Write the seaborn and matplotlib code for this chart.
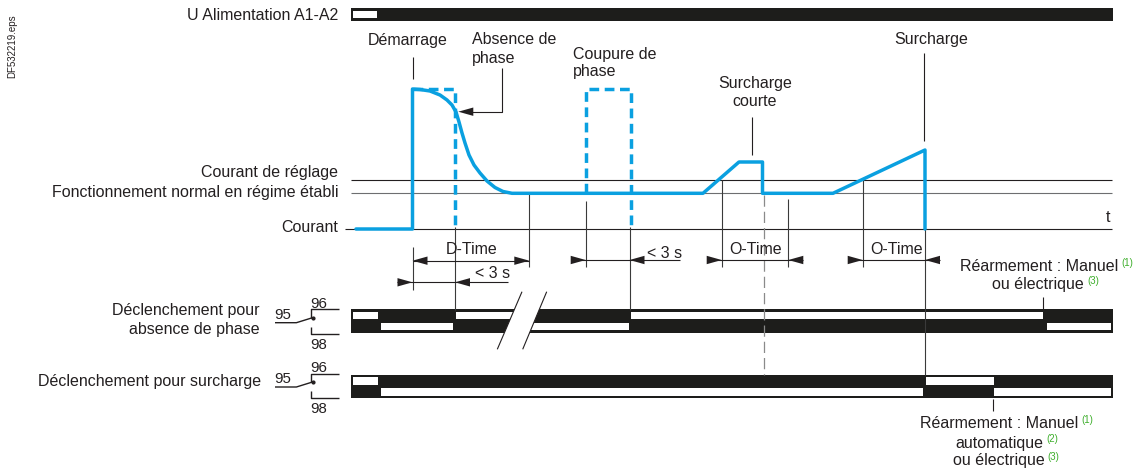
import matplotlib
matplotlib.use("Agg")
import matplotlib.pyplot as plt
import seaborn as sns
import pandas as pd
from matplotlib.patches import Rectangle, Polygon

# ---------------- data (diagram coordinates: x = time axis, y = drawing level) -------------
# current waveform (solid blue)
cur_t = [356, 412.5, 412.5, 420, 430, 440, 447, 452, 456, 459, 462, 465, 469, 474, 480,
         487, 495, 503, 512, 703, 739, 762.5, 762.5, 833, 925, 925]
cur_i = [229, 229, 89, 89.5, 91, 95, 100, 105, 112, 122, 133, 143, 155, 165, 173,
         181, 187.5, 191.5, 193.3, 193.3, 162, 162, 193.3, 193.3, 150, 229]
# dashed blue excursions
absence_t = [413, 455, 455]
absence_i = [89, 89, 226]
coupure_t = [586, 586, 630.5, 630.5]
coupure_i = [193.3, 89, 89, 226]
# reference levels
level_reglage = 180
level_normal = 193.3
level_zero = 229
# supply bar : "off" (white) intervals
supply_off = [(352.7, 377.3)]
# relay tracks : open (white) intervals, upper track (96) and lower track (98)
relay1_top_open = [(352.7, 377.7), (456.3, 530), (631, 1042.7)]
relay1_bot_open = [(380.7, 452.7), (525, 628.7), (1046.7, 1111)]
relay2_top_open = [(352.7, 377.7), (926, 994)]
relay2_bot_open = [(380.7, 922.7), (994, 1111)]

INK = "#231f20"
GREY = "#6d6e70"
BLUE = "#0aa0e0"
GREEN = "#3dae2b"

sns.set_theme(style="white")
plt.rcParams["font.family"] = ["Liberation Sans", "DejaVu Sans"]

fig = plt.figure(figsize=(11.33, 4.68), dpi=100)
ax = fig.add_axes([0, 0, 1, 1])

FS = 11.5


def txt(x, y, s, ha="center", fs=FS, color=INK, **kw):
    ax.text(x, y, s, ha=ha, va="center", fontsize=fs, color=color, **kw)


def seg(xs, ys, color=INK, lw=0.8, **kw):
    ax.plot(xs, ys, color=color, lw=lw, solid_capstyle="butt", **kw)


def head(tip, y, d):
    L, W = 15, 4.2
    ax.add_patch(Polygon([(tip, y), (tip - d * L, y - W), (tip - d * L, y + W)],
                         closed=True, facecolor=INK, edgecolor="none"))


# ---------------- supply bar ----------------
ax.add_patch(Rectangle((350.5, 7.5), 1113 - 350.5, 13.5, facecolor="#1d1d1b", edgecolor="none"))
for a, b in supply_off:
    ax.add_patch(Rectangle((a, 10.8), b - a, 6.8, facecolor="white", edgecolor="none"))
txt(338, 15.5, "U Alimentation A1-A2", ha="right")

# ---------------- reference lines ----------------
seg([351, 1112], [level_reglage] * 2, color=INK, lw=0.8)
seg([351, 1112], [level_normal] * 2, color=GREY, lw=0.8)
seg([345, 1112], [level_zero] * 2, color=INK, lw=0.8)
txt(338, 172, "Courant de réglage", ha="right")
txt(338, 192.5, "Fonctionnement normal en régime établi", ha="right")
txt(338, 227.5, "Courant", ha="right")
txt(1108, 218, "t")

# ---------------- timing verticals ----------------
verticals = [(412.5, 247, 290), (455, 227, 310), (529.3, 193, 267), (585.7, 201, 267),
             (629.5, 227, 310), (721.7, 180, 267), (788.3, 199, 267), (862.7, 180, 267),
             (925, 229, 375)]
for x, y0, y1 in verticals:
    seg([x, x], [y0, y1], color="#3a3a3a", lw=0.8)
seg([764, 764], [195, 375], color="#8a8a8a", lw=0.9, linestyle=(0, (9, 4)))

# ---------------- current waveform ----------------
df = pd.DataFrame({"t": cur_t, "i": cur_i})
sns.lineplot(data=df, x="t", y="i", sort=False, estimator=None, color=BLUE, lw=2.5, ax=ax)
ax.plot(absence_t, absence_i, color=BLUE, lw=2.5, linestyle=(0, (2.8, 1.6)))
ax.plot(coupure_t, coupure_i, color=BLUE, lw=2.5, linestyle=(0, (2.8, 1.6)))

# ---------------- annotations top ----------------
txt(408, 40, "Démarrage")
seg([412.7, 412.7], [56.7, 79.3])
txt(472.3, 40, "Absence de", ha="left")
txt(472.3, 59, "phase", ha="left")
seg([501.7, 501.7, 471], [68, 111.7, 111.7])
head(458.3, 111.7, -1)
txt(572.7, 54, "Coupure de", ha="left")
txt(572.7, 71.7, "phase", ha="left")
txt(755, 83.3, "Surcharge")
txt(755, 101.7, "courte")
seg([752.3, 752.3], [116.7, 155])
txt(931.7, 39.3, "Surcharge")
seg([924.3, 924.3], [53.3, 140.7])

# ---------------- timing arrows ----------------
# D-Time
seg([412.5, 529.3], [260.7, 260.7])
head(412.5, 260.7, -1); head(529.3, 260.7, 1)
txt(471.3, 250, "D-Time")
# < 3 s (absence de phase)
seg([397, 508.3], [282.3, 282.3])
head(412.5, 282.3, 1); head(455, 282.3, -1)
txt(475, 273.3, "< 3 s", ha="left")
# < 3 s (coupure)
seg([571, 680], [260, 260])
head(585.7, 260, 1); head(629.5, 260, -1)
txt(646.7, 253.3, "< 3 s", ha="left")
# O-Time 1
seg([708, 803], [260, 260])
head(721.7, 260, 1); head(788.3, 260, -1)
txt(755.8, 250, "O-Time")
# O-Time 2
seg([848, 940], [260, 260])
head(862.7, 260, 1); head(925, 260, -1)
txt(896.3, 250, "O-Time")


# ---------------- relays ----------------
def relay(y0, top_open, bot_open):
    ax.add_patch(Rectangle((350.5, y0), 1113.3 - 350.5, 23.3, facecolor="#1d1d1b", edgecolor="none"))
    for a, b in top_open:
        ax.add_patch(Rectangle((a, y0 + 2.4), b - a, 7.6, facecolor="white", edgecolor="none"))
    for a, b in bot_open:
        ax.add_patch(Rectangle((a, y0 + 13.2), b - a, 7.8, facecolor="white", edgecolor="none"))


def contact(dy):
    seg([339.3, 311.4, 311.4], [309.3 + dy, 309.3 + dy, 318 + dy], lw=1.0)
    seg([275, 296.4, 312.5], [322.7 + dy, 322.7 + dy, 317.7 + dy], lw=1.0)
    ax.plot([312.5], [317.7 + dy], "o", color=INK, ms=2)
    seg([311.4, 311.4, 339.3], [326.7 + dy, 334 + dy, 334 + dy], lw=1.0)
    txt(318.7, 303.5 + dy, "96", fs=10.8)
    txt(282.5, 315 + dy, "95", fs=10.8)
    txt(318.4, 345 + dy, "98", fs=10.8)


relay(309.3, relay1_top_open, relay1_bot_open)
relay(374.5, relay2_top_open, relay2_bot_open)
contact(0)
contact(64.3)

# break marks on relay 1
bx_top = [522, 546.7]
bx_bot = [497.3, 522.7]
by_top, by_bot = 291.7, 349.3


def xat(xt, xb, y):
    return xt + (xb - xt) * (y - by_top) / (by_bot - by_top)


ya, yb = 308.5, 334
ax.add_patch(Polygon([(xat(bx_top[0], bx_bot[0], ya), ya), (xat(bx_top[1], bx_bot[1], ya), ya),
                      (xat(bx_top[1], bx_bot[1], yb), yb), (xat(bx_top[0], bx_bot[0], yb), yb)],
                     closed=True, facecolor="white", edgecolor="none"))
for xt, xb in zip(bx_top, bx_bot):
    seg([xt, xb], [by_top, by_bot], lw=0.8)

txt(260, 311, "Déclenchement pour", ha="right")
txt(260, 329.3, "absence de phase", ha="right")
txt(261, 381.7, "Déclenchement pour surcharge", ha="right")

# ---------------- reset notes ----------------
seg([1043.3, 1043.3], [296.7, 310])
seg([992.7, 992.7], [399, 410.7])


def note(x_end, y, s, sup):
    txt(x_end, y, s, ha="right")
    txt(x_end + 3, y - 4, sup, ha="left", fs=7, color=GREEN)


note(1118.3, 266.7, "Réarmement : Manuel", "(1)")
note(1084, 285, "ou électrique", "(3)")
note(1078.3, 424, "Réarmement : Manuel", "(1)")
note(1043.3, 443.3, "automatique", "(2)")
note(1044.3, 460.7, "ou électrique", "(3)")

ax.text(12, 46.5, "DF532219.eps", rotation=90, ha="center", va="center", fontsize=7, color=INK)

ax.set_xlim(0, 1133)
ax.set_ylim(468, 0)
ax.axis("off")
fig.savefig("out.png", dpi=100)
